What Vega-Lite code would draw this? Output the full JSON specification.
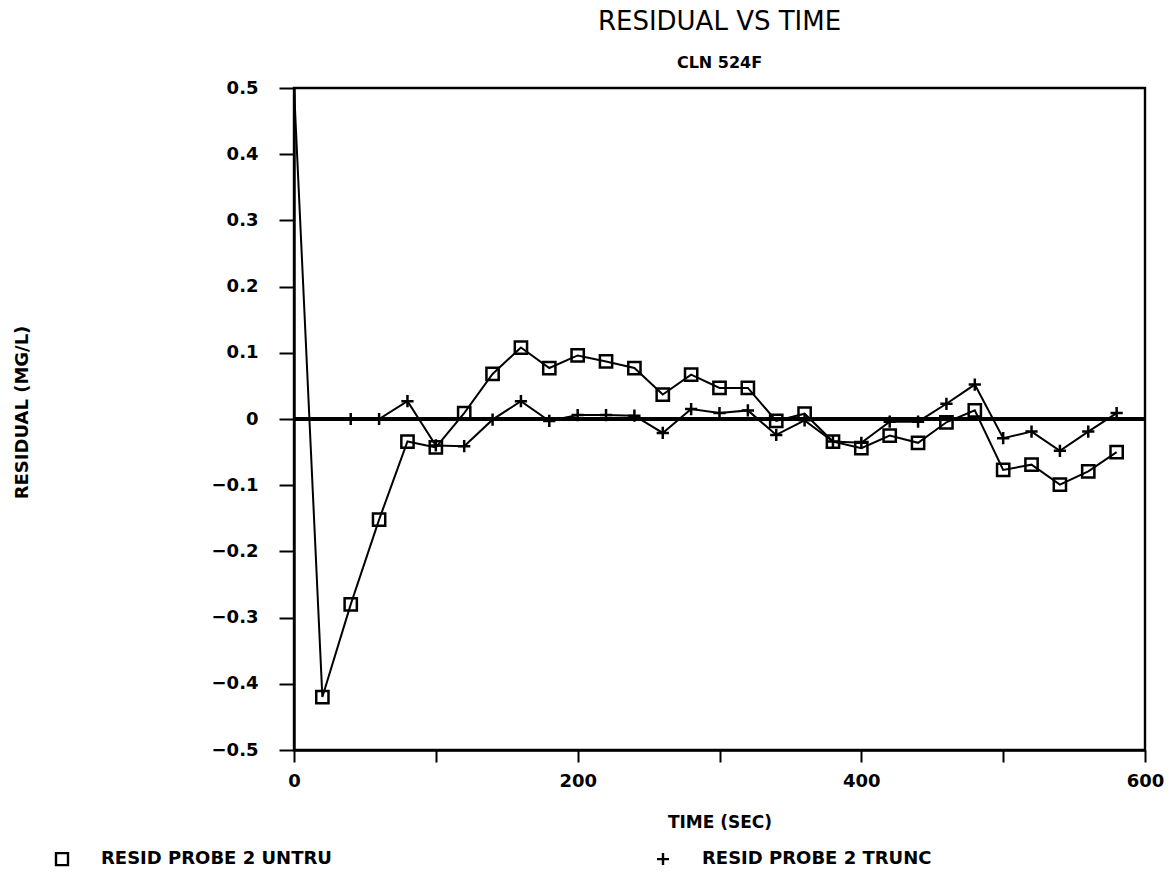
{
  "$schema": "https://vega.github.io/schema/vega-lite/v6.json",
  "width": 851,
  "height": 662,
  "autosize": {"type": "none"},
  "padding": {"left": 294, "top": 88, "right": 25, "bottom": 125},
  "background": "white",
  "config": {
    "font": "DejaVu Sans",
    "view": {"stroke": "black", "strokeWidth": 2.4},
    "axis": {
      "domainColor": "black", "domainWidth": 2.4, "tickColor": "black", "tickWidth": 2,
      "labelColor": "black", "labelFont": "DejaVu Sans", "labelFontWeight": "bold", "labelFontSize": 18,
      "titleColor": "black", "titleFont": "DejaVu Sans", "titleFontWeight": "bold", "grid": false
    }
  },
  "title": {
    "text": "RESIDUAL VS TIME",
    "subtitle": "CLN 524F",
    "anchor": "middle",
    "font": "DejaVu Sans",
    "fontSize": 26,
    "fontWeight": "normal",
    "color": "black",
    "subtitleFont": "DejaVu Sans",
    "subtitleFontSize": 16,
    "subtitleFontWeight": "bold",
    "subtitleColor": "black",
    "subtitlePadding": 20,
    "offset": 8
  },
  "data": {
    "values": [
      {"t": 0, "r": 0.5, "s": "RESID PROBE 2 UNTRU"},
      {"t": 20, "r": -0.42, "s": "RESID PROBE 2 UNTRU"},
      {"t": 40, "r": -0.28, "s": "RESID PROBE 2 UNTRU"},
      {"t": 60, "r": -0.152, "s": "RESID PROBE 2 UNTRU"},
      {"t": 80, "r": -0.034, "s": "RESID PROBE 2 UNTRU"},
      {"t": 100, "r": -0.043, "s": "RESID PROBE 2 UNTRU"},
      {"t": 120, "r": 0.009, "s": "RESID PROBE 2 UNTRU"},
      {"t": 140, "r": 0.068, "s": "RESID PROBE 2 UNTRU"},
      {"t": 160, "r": 0.108, "s": "RESID PROBE 2 UNTRU"},
      {"t": 180, "r": 0.077, "s": "RESID PROBE 2 UNTRU"},
      {"t": 200, "r": 0.096, "s": "RESID PROBE 2 UNTRU"},
      {"t": 220, "r": 0.087, "s": "RESID PROBE 2 UNTRU"},
      {"t": 240, "r": 0.077, "s": "RESID PROBE 2 UNTRU"},
      {"t": 260, "r": 0.037, "s": "RESID PROBE 2 UNTRU"},
      {"t": 280, "r": 0.067, "s": "RESID PROBE 2 UNTRU"},
      {"t": 300, "r": 0.047, "s": "RESID PROBE 2 UNTRU"},
      {"t": 320, "r": 0.047, "s": "RESID PROBE 2 UNTRU"},
      {"t": 340, "r": -0.003, "s": "RESID PROBE 2 UNTRU"},
      {"t": 360, "r": 0.008, "s": "RESID PROBE 2 UNTRU"},
      {"t": 380, "r": -0.034, "s": "RESID PROBE 2 UNTRU"},
      {"t": 400, "r": -0.044, "s": "RESID PROBE 2 UNTRU"},
      {"t": 420, "r": -0.025, "s": "RESID PROBE 2 UNTRU"},
      {"t": 440, "r": -0.036, "s": "RESID PROBE 2 UNTRU"},
      {"t": 460, "r": -0.005, "s": "RESID PROBE 2 UNTRU"},
      {"t": 480, "r": 0.013, "s": "RESID PROBE 2 UNTRU"},
      {"t": 500, "r": -0.077, "s": "RESID PROBE 2 UNTRU"},
      {"t": 520, "r": -0.069, "s": "RESID PROBE 2 UNTRU"},
      {"t": 540, "r": -0.099, "s": "RESID PROBE 2 UNTRU"},
      {"t": 560, "r": -0.079, "s": "RESID PROBE 2 UNTRU"},
      {"t": 580, "r": -0.05, "s": "RESID PROBE 2 UNTRU"},
      {"t": 40, "r": 0.0, "s": "RESID PROBE 2 TRUNC"},
      {"t": 60, "r": 0.0, "s": "RESID PROBE 2 TRUNC"},
      {"t": 80, "r": 0.027, "s": "RESID PROBE 2 TRUNC"},
      {"t": 100, "r": -0.04, "s": "RESID PROBE 2 TRUNC"},
      {"t": 120, "r": -0.041, "s": "RESID PROBE 2 TRUNC"},
      {"t": 140, "r": -0.001, "s": "RESID PROBE 2 TRUNC"},
      {"t": 160, "r": 0.027, "s": "RESID PROBE 2 TRUNC"},
      {"t": 180, "r": -0.003, "s": "RESID PROBE 2 TRUNC"},
      {"t": 200, "r": 0.006, "s": "RESID PROBE 2 TRUNC"},
      {"t": 220, "r": 0.006, "s": "RESID PROBE 2 TRUNC"},
      {"t": 240, "r": 0.005, "s": "RESID PROBE 2 TRUNC"},
      {"t": 260, "r": -0.021, "s": "RESID PROBE 2 TRUNC"},
      {"t": 280, "r": 0.015, "s": "RESID PROBE 2 TRUNC"},
      {"t": 300, "r": 0.009, "s": "RESID PROBE 2 TRUNC"},
      {"t": 320, "r": 0.013, "s": "RESID PROBE 2 TRUNC"},
      {"t": 340, "r": -0.024, "s": "RESID PROBE 2 TRUNC"},
      {"t": 360, "r": -0.002, "s": "RESID PROBE 2 TRUNC"},
      {"t": 380, "r": -0.034, "s": "RESID PROBE 2 TRUNC"},
      {"t": 400, "r": -0.036, "s": "RESID PROBE 2 TRUNC"},
      {"t": 420, "r": -0.004, "s": "RESID PROBE 2 TRUNC"},
      {"t": 440, "r": -0.004, "s": "RESID PROBE 2 TRUNC"},
      {"t": 460, "r": 0.023, "s": "RESID PROBE 2 TRUNC"},
      {"t": 480, "r": 0.052, "s": "RESID PROBE 2 TRUNC"},
      {"t": 500, "r": -0.029, "s": "RESID PROBE 2 TRUNC"},
      {"t": 520, "r": -0.019, "s": "RESID PROBE 2 TRUNC"},
      {"t": 540, "r": -0.048, "s": "RESID PROBE 2 TRUNC"},
      {"t": 560, "r": -0.019, "s": "RESID PROBE 2 TRUNC"},
      {"t": 580, "r": 0.009, "s": "RESID PROBE 2 TRUNC"}
    ]
  },
  "encoding": {
    "x": {
      "field": "t", "type": "quantitative",
      "scale": {"domain": [0, 600], "nice": false, "zero": false},
      "axis": {
        "title": "TIME (SEC)", "titleFontSize": 17, "titleY": 72, "titleBaseline": "middle",
        "values": [0, 100, 200, 300, 400, 500, 600],
        "labelExpr": "datum.value % 200 == 0 ? datum.label : ''",
        "format": "d", "tickSize": 12, "labelPadding": 10, "labelFlush": false
      }
    },
    "y": {
      "field": "r", "type": "quantitative",
      "scale": {"domain": [-0.5, 0.5], "nice": false, "zero": false},
      "axis": {
        "title": "RESIDUAL (MG/L)", "titleFontSize": 18, "titleX": -272, "titleY": 324,
        "titleBaseline": "middle", "titleAngle": -90, "titleAlign": "center",
        "values": [-0.5, -0.4, -0.3, -0.2, -0.1, 0, 0.1, 0.2, 0.3, 0.4, 0.5],
        "format": ".1~f", "tickSize": 15, "labelPadding": 21, "labelFlush": false
      }
    }
  },
  "layer": [
    {
      "mark": {"type": "rule", "color": "black", "strokeWidth": 2.8},
      "encoding": {"y": {"datum": 0}, "x": null}
    },
    {
      "mark": {"type": "line", "color": "black", "strokeWidth": 2, "clip": true},
      "encoding": {"detail": {"field": "s"}}
    },
    {
      "transform": [{"filter": "datum.t > 0"}],
      "mark": {"type": "point", "filled": false, "color": "black", "strokeWidth": 2.5, "opacity": 1},
      "encoding": {
        "shape": {
          "field": "s", "type": "nominal",
          "scale": {"domain": ["RESID PROBE 2 UNTRU", "RESID PROBE 2 TRUNC"], "range": ["square", "M-1,0H1M0,-1V1"]},
          "legend": {
            "title": null, "orient": "none", "direction": "horizontal",
            "legendX": -241, "legendY": 762, "padding": 0,
            "symbolSize": 144, "symbolStrokeWidth": 2.4, "symbolStrokeColor": "black", "symbolFillColor": "transparent",
            "labelFont": "DejaVu Sans", "labelFontWeight": "bold", "labelFontSize": 18, "labelColor": "black",
            "labelOffset": 30, "columnPadding": 320, "labelLimit": 400
          }
        },
        "size": {"value": 150}
      }
    }
  ]
}
